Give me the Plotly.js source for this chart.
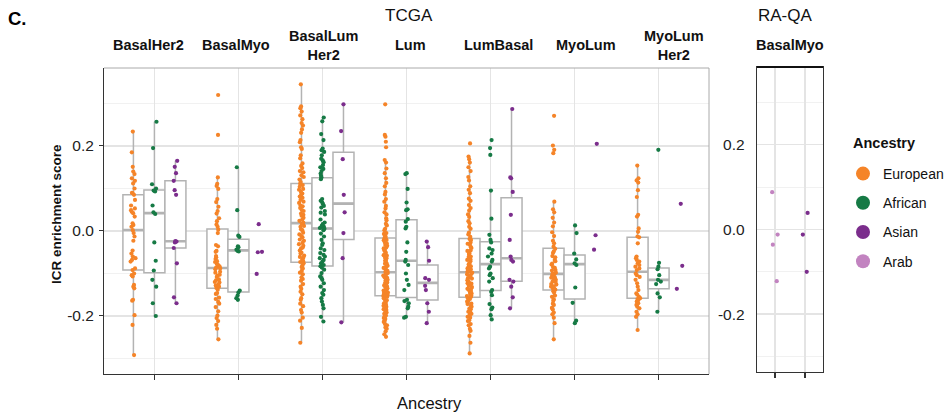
<!DOCTYPE html>
<html><head><meta charset="utf-8">
<script src="https://cdn.plot.ly/plotly-3.0.1.min.js"></script>
<style>html,body{margin:0;padding:0;background:#fff}#chart{width:952px;height:415px}</style>
</head><body><div id="chart"></div>
<script>
// ---------- categories & labels ----------
const subtypes = ['BasalHer2','BasalMyo','BasalLumHer2','Lum','LumBasal','MyoLum','MyoLumHer2'];
const facetLabels = ['BasalHer2','BasalMyo','BasalLum<br>Her2','Lum','LumBasal','MyoLum','MyoLum<br>Her2'];
const tcgaAncestries = ['European','African','Asian'];
const raqaCategories = ['Arab','Asian'];
const raqaFacet = 'BasalMyo';
const legendNames = ['European','African','Asian','Arab'];
const yTickValues = [-0.2, 0, 0.2];
const yTickLabels = ['-0.2','0.0','0.2'];
const yMinorValues = [-0.3, -0.1, 0.1, 0.3];

// ---------- TCGA: ICR enrichment scores ----------
const basalHer2_European = [0.234,0.185,0.151,0.140,0.134,0.124,0.118,0.112,0.100,0.090,0.089,0.085,0.073,0.060,0.053,0.049,0.045,0.042,0.034,0.018,0.014,0.010,0.002,-0.005,-0.013,-0.023,-0.046,-0.053,-0.060,-0.064,-0.068,-0.072,-0.088,-0.092,-0.100,-0.104,-0.107,-0.127,-0.131,-0.135,-0.162,-0.164,-0.198,-0.221,-0.292];
const basalHer2_African = [0.257,0.195,0.110,0.100,0.095,0.093,0.060,0.044,0.040,-0.027,-0.070,-0.093,-0.115,-0.131,-0.170,-0.200];
const basalHer2_Asian = [0.165,0.151,0.136,0.118,0.096,0.085,-0.024,-0.025,-0.027,-0.040,-0.076,-0.156,-0.170];

const basalMyo_European = [0.320,0.226,0.126,0.111,0.106,0.099,0.075,0.068,0.057,0.047,0.041,0.030,0.023,0.015,0.010,0.003,-0.005,-0.033,-0.036,-0.047,-0.049,-0.059,-0.062,-0.066,-0.071,-0.073,-0.078,-0.080,-0.083,-0.086,-0.088,-0.090,-0.096,-0.098,-0.103,-0.105,-0.108,-0.114,-0.116,-0.120,-0.121,-0.126,-0.128,-0.131,-0.134,-0.138,-0.146,-0.148,-0.157,-0.160,-0.167,-0.171,-0.179,-0.189,-0.199,-0.205,-0.212,-0.221,-0.230,-0.255];
const basalMyo_African = [0.150,0.049,-0.011,-0.014,-0.036,-0.038,-0.044,-0.047,-0.048,-0.140,-0.145,-0.152,-0.158,-0.162];
const basalMyo_Asian = [0.016,-0.049,-0.050,-0.101];

const basalLumHer2_European = [0.345,0.293,0.289,0.281,0.272,0.263,0.254,0.248,0.239,0.231,0.214,0.209,0.197,0.193,0.178,0.171,0.159,0.153,0.148,0.141,0.138,0.131,0.127,0.121,0.115,0.111,0.108,0.104,0.099,0.097,0.092,0.088,0.085,0.081,0.078,0.073,0.069,0.066,0.060,0.058,0.054,0.049,0.047,0.041,0.038,0.036,0.031,0.027,0.024,0.020,0.017,0.012,0.010,0.004,0.002,-0.004,-0.008,-0.012,-0.015,-0.020,-0.023,-0.028,-0.031,-0.035,-0.039,-0.041,-0.046,-0.051,-0.053,-0.058,-0.061,-0.063,-0.067,-0.071,-0.073,-0.076,-0.081,-0.085,-0.088,-0.094,-0.098,-0.102,-0.109,-0.113,-0.117,-0.125,-0.131,-0.136,-0.143,-0.149,-0.158,-0.162,-0.171,-0.177,-0.186,-0.192,-0.204,-0.211,-0.228,-0.263];
const basalLumHer2_African = [0.267,0.258,0.228,0.214,0.194,0.190,0.186,0.178,0.170,0.166,0.162,0.155,0.150,0.146,0.141,0.135,0.130,0.126,0.122,0.075,0.071,0.067,0.063,0.059,0.055,0.047,0.043,0.039,0.027,0.020,0.016,0.012,0.010,0.008,0.007,0.005,0.002,-0.006,-0.013,-0.021,-0.029,-0.033,-0.041,-0.045,-0.052,-0.056,-0.060,-0.064,-0.068,-0.072,-0.076,-0.080,-0.083,-0.086,-0.091,-0.099,-0.107,-0.111,-0.115,-0.123,-0.131,-0.139,-0.146,-0.150,-0.158,-0.166,-0.174,-0.182,-0.202,-0.213];
const basalLumHer2_Asian = [0.298,0.235,0.169,0.085,0.044,-0.005,-0.064,-0.215];

const lum_European = [0.298,0.226,0.222,0.210,0.197,0.167,0.161,0.147,0.136,0.124,0.113,0.105,0.092,0.086,0.075,0.069,0.059,0.053,0.044,0.039,0.030,0.025,0.017,0.013,0.005,0.002,-0.005,-0.007,-0.011,-0.014,-0.017,-0.021,-0.022,-0.027,-0.029,-0.033,-0.035,-0.039,-0.041,-0.045,-0.046,-0.051,-0.053,-0.057,-0.058,-0.063,-0.064,-0.069,-0.070,-0.074,-0.077,-0.078,-0.082,-0.084,-0.087,-0.088,-0.091,-0.093,-0.094,-0.096,-0.098,-0.099,-0.102,-0.105,-0.106,-0.109,-0.110,-0.113,-0.115,-0.116,-0.119,-0.121,-0.122,-0.125,-0.127,-0.128,-0.131,-0.132,-0.135,-0.136,-0.138,-0.140,-0.141,-0.143,-0.145,-0.146,-0.148,-0.149,-0.150,-0.152,-0.153,-0.155,-0.158,-0.160,-0.163,-0.165,-0.168,-0.170,-0.174,-0.176,-0.178,-0.181,-0.184,-0.186,-0.190,-0.192,-0.195,-0.199,-0.201,-0.205,-0.207,-0.211,-0.214,-0.219,-0.222,-0.227,-0.230,-0.236,-0.243,-0.249];
const lum_African = [0.136,0.134,0.099,0.067,0.051,0.049,0.028,0.022,0.010,0.006,-0.027,-0.049,-0.068,-0.072,-0.080,-0.100,-0.115,-0.127,-0.139,-0.162,-0.165,-0.170,-0.178,-0.182,-0.202,-0.204];
const lum_Asian = [-0.025,-0.038,-0.070,-0.111,-0.115,-0.129,-0.139,-0.170,-0.190,-0.217];

const lumBasal_European = [0.206,0.175,0.169,0.161,0.150,0.141,0.127,0.119,0.105,0.097,0.089,0.076,0.071,0.061,0.054,0.048,0.039,0.033,0.023,0.018,0.010,0.005,-0.004,-0.008,-0.014,-0.019,-0.021,-0.027,-0.030,-0.033,-0.038,-0.040,-0.046,-0.047,-0.053,-0.054,-0.060,-0.061,-0.067,-0.068,-0.071,-0.077,-0.078,-0.083,-0.084,-0.088,-0.090,-0.093,-0.094,-0.096,-0.098,-0.101,-0.102,-0.106,-0.107,-0.111,-0.112,-0.116,-0.117,-0.120,-0.123,-0.124,-0.128,-0.129,-0.132,-0.135,-0.136,-0.139,-0.141,-0.144,-0.147,-0.148,-0.152,-0.153,-0.155,-0.158,-0.160,-0.165,-0.166,-0.171,-0.172,-0.177,-0.178,-0.183,-0.184,-0.189,-0.190,-0.195,-0.197,-0.202,-0.204,-0.210,-0.212,-0.219,-0.222,-0.230,-0.235,-0.247,-0.263,-0.288];
const lumBasal_African = [0.214,0.195,0.179,0.095,0.029,-0.009,-0.021,-0.027,-0.041,-0.045,-0.053,-0.060,-0.068,-0.072,-0.084,-0.088,-0.100,-0.104,-0.111,-0.119,-0.139,-0.143,-0.151,-0.172,-0.180,-0.184,-0.198,-0.208];
const lumBasal_Asian = [0.287,0.126,0.124,0.092,0.038,-0.021,-0.060,-0.068,-0.072,-0.115,-0.119,-0.131,-0.156,-0.182];

const myoLum_European = [0.271,0.201,0.191,0.183,0.069,0.051,0.044,0.031,0.020,0.011,-0.003,-0.012,-0.023,-0.029,-0.037,-0.042,-0.048,-0.052,-0.059,-0.062,-0.068,-0.071,-0.077,-0.079,-0.085,-0.087,-0.092,-0.093,-0.098,-0.100,-0.102,-0.104,-0.109,-0.110,-0.114,-0.115,-0.119,-0.120,-0.125,-0.126,-0.130,-0.131,-0.135,-0.136,-0.138,-0.142,-0.145,-0.152,-0.155,-0.161,-0.164,-0.171,-0.174,-0.181,-0.185,-0.192,-0.196,-0.204,-0.217,-0.255];
const myoLum_African = [0.013,-0.005,-0.053,-0.067,-0.076,-0.080,-0.133,-0.169,-0.211,-0.217];
const myoLum_Asian = [0.205,-0.010,-0.044];

const myoLumHer2_European = [0.154,0.124,0.119,0.114,0.096,0.080,0.038,0.034,0.006,-0.002,-0.013,-0.015,-0.029,-0.060,-0.064,-0.068,-0.072,-0.076,-0.080,-0.084,-0.088,-0.092,-0.100,-0.104,-0.108,-0.115,-0.123,-0.131,-0.139,-0.147,-0.150,-0.155,-0.158,-0.160,-0.163,-0.166,-0.170,-0.174,-0.178,-0.182,-0.190,-0.196,-0.202,-0.233];
const myoLumHer2_African = [0.191,-0.075,-0.084,-0.090,-0.104,-0.115,-0.119,-0.125,-0.147,-0.156,-0.190];
const myoLumHer2_Asian = [0.064,-0.082,-0.136];

// ---------- RA-QA (BasalMyo) ----------
const raqa_Arab = [0.088,-0.012,-0.036,-0.122];
const raqa_Asian = [0.039,-0.012,-0.100];

// ---------- assembly ----------
const tcgaData = {
  European: [basalHer2_European, basalMyo_European, basalLumHer2_European, lum_European, lumBasal_European, myoLum_European, myoLumHer2_European],
  African:  [basalHer2_African, basalMyo_African, basalLumHer2_African, lum_African, lumBasal_African, myoLum_African, myoLumHer2_African],
  Asian:    [basalHer2_Asian, basalMyo_Asian, basalLumHer2_Asian, lum_Asian, lumBasal_Asian, myoLum_Asian, myoLumHer2_Asian]
};
const raqaData = {Arab: raqa_Arab, Asian: raqa_Asian};

// ---------- styles ----------
const colors = {European:'#F58428', African:'#167A45', Asian:'#7B2D8C', Arab:'#C283C0'};
const FONT = 'Liberation Sans, Arial, Helvetica, sans-serif';
const W = 952, H = 415;
const px = v => v / W, py = v => 1 - v / H;
const boxLine = '#b3b3b3';
const minBoxN = 5;
const stripX0 = 148, stripStep = 87.6;   // facet strip label placement (px)

function q7(s, p) { const h = (s.length - 1) * p, lo = Math.floor(h), hi = Math.ceil(h); return s[lo] + (h - lo) * (s[hi] - s[lo]); }
function stats(vals) {
  const s = vals.slice().sort((a, b) => a - b);
  const q1 = q7(s, 0.25), med = q7(s, 0.5), q3 = q7(s, 0.75), iqr = q3 - q1;
  const lf = s.find(v => v >= q1 - 1.5 * iqr);
  const uf = s.slice().reverse().find(v => v <= q3 + 1.5 * iqr);
  return {q1, med, q3, lf, uf};
}

const traces = [];
// boxes
tcgaAncestries.forEach(anc => {
  const b = {x: [], q1: [], median: [], q3: [], lowerfence: [], upperfence: []};
  tcgaData[anc].forEach((vals, i) => {
    if (vals.length < minBoxN) return;
    const st = stats(vals);
    b.x.push(subtypes[i]); b.q1.push(st.q1); b.median.push(st.med); b.q3.push(st.q3);
    b.lowerfence.push(st.lf); b.upperfence.push(st.uf);
  });
  traces.push(Object.assign({type: 'box', orientation: 'v', boxpoints: false, offsetgroup: anc, alignmentgroup: 'tcga',
    line: {color: boxLine, width: 1.5}, fillcolor: '#ffffff', whiskerwidth: 0, showlegend: false, hoverinfo: 'skip',
    xaxis: 'x', yaxis: 'y'}, b));
  // thicker median bar
  traces.push({type: 'box', orientation: 'v', boxpoints: false, offsetgroup: anc, alignmentgroup: 'tcga',
    x: b.x, q1: b.median, median: b.median, q3: b.median, lowerfence: b.median, upperfence: b.median,
    line: {color: boxLine, width: 2.6}, fillcolor: 'rgba(0,0,0,0)', whiskerwidth: 0, showlegend: false, hoverinfo: 'skip',
    xaxis: 'x', yaxis: 'y'});
});
// points
tcgaAncestries.forEach(anc => {
  const xs = [], ys = [];
  tcgaData[anc].forEach((vals, i) => vals.forEach(v => { xs.push(subtypes[i]); ys.push(v); }));
  traces.push({type: 'box', x: xs, y: ys, boxpoints: 'all', jitter: 0.27, pointpos: 0, offsetgroup: anc, alignmentgroup: 'tcga',
    line: {color: 'rgba(0,0,0,0)', width: 0}, fillcolor: 'rgba(0,0,0,0)', whiskerwidth: 0,
    marker: {color: colors[anc], size: 4.2}, showlegend: false, hoverinfo: 'y', xaxis: 'x', yaxis: 'y'});
});
raqaCategories.forEach(cat => {
  const vals = raqaData[cat];
  traces.push({type: 'box', x: vals.map(() => cat), y: vals, boxpoints: 'all', jitter: 0.3, pointpos: 0, offsetgroup: 'rp', alignmentgroup: 'raqa',
    line: {color: 'rgba(0,0,0,0)', width: 0}, fillcolor: 'rgba(0,0,0,0)', whiskerwidth: 0,
    marker: {color: colors[cat], size: 4.2}, showlegend: false, hoverinfo: 'y', xaxis: 'x2', yaxis: 'y2'});
});
// legend entries
legendNames.forEach(n => traces.push({type: 'scatter', mode: 'markers', x: [null], y: [null], name: n, legendgroup: n,
  marker: {color: colors[n], size: 14}, xaxis: 'x', yaxis: 'y', hoverinfo: 'skip'}));

const yRange = [-0.3365, 0.3835];
const gridC = '#e4e4e4', minorC = '#eeeeee';
const tickFont = {family: FONT, size: 15.5, color: '#222'};

const annotations = [];
facetLabels.forEach((lab, i) => annotations.push({xref: 'paper', yref: 'paper', x: px(stripX0 + i * stripStep), y: py(45), text: '<b>' + lab + '</b>',
  showarrow: false, xanchor: 'center', yanchor: 'middle', font: {family: FONT, size: 14.5, color: '#111'}}));
annotations.push({xref: 'x2 domain', yref: 'paper', x: 0.5, y: py(45), text: '<b>' + raqaFacet + '</b>', showarrow: false,
  xanchor: 'center', yanchor: 'middle', font: {family: FONT, size: 14.5, color: '#111'}});
annotations.push({xref: 'paper', yref: 'paper', x: px(409), y: py(15), text: 'TCGA', showarrow: false, xanchor: 'center', yanchor: 'middle', font: {family: FONT, size: 17, color: '#111'}});
annotations.push({xref: 'paper', yref: 'paper', x: px(785), y: py(15), text: 'RA-QA', showarrow: false, xanchor: 'center', yanchor: 'middle', font: {family: FONT, size: 17, color: '#111'}});
annotations.push({xref: 'paper', yref: 'paper', x: px(6), y: py(19), text: '<b>C.</b>', showarrow: false, xanchor: 'left', yanchor: 'middle', font: {family: FONT, size: 18.5, color: '#000'}});
annotations.push({xref: 'paper', yref: 'paper', x: px(56), y: py(214), text: '<b>ICR enrichment score</b>', textangle: -90, showarrow: false, xanchor: 'center', yanchor: 'middle', font: {family: FONT, size: 13.5, color: '#111'}});
annotations.push({xref: 'paper', yref: 'paper', x: px(429), y: py(403), text: 'Ancestry', showarrow: false, xanchor: 'center', yanchor: 'middle', font: {family: FONT, size: 16.5, color: '#111'}});
annotations.push({xref: 'paper', yref: 'paper', x: px(851), y: py(143), text: '<b>Ancestry</b>', showarrow: false, xanchor: 'left', yanchor: 'middle', font: {family: FONT, size: 14.5, color: '#111'}});

const layout = {
  width: W, height: H, margin: {l: 0, r: 0, t: 0, b: 0}, paper_bgcolor: '#fff', plot_bgcolor: '#fff',
  font: {family: FONT}, boxmode: 'group', boxgap: 0.25, boxgroupgap: 0,
  xaxis: {domain: [px(104), px(709)], anchor: 'y', type: 'category', categoryorder: 'array', categoryarray: subtypes,
    range: [-0.6, 6.6], showticklabels: false, ticks: 'outside', ticklen: 5, tickwidth: 1, tickcolor: '#333',
    showgrid: true, gridcolor: gridC, gridwidth: 1.4, showline: true, linecolor: '#333', linewidth: 1, zeroline: false, fixedrange: true},
  yaxis: {domain: [py(374), py(68)], anchor: 'x', range: yRange, tickmode: 'array', tickvals: yTickValues, ticktext: yTickLabels,
    ticks: 'outside', ticklen: 4, tickwidth: 1, tickcolor: '#333', tickfont: tickFont, ticklabelstandoff: 2,
    showgrid: true, gridcolor: gridC, gridwidth: 1.4,
    minor: {tickmode: 'array', tickvals: yMinorValues, showgrid: true, gridcolor: minorC, gridwidth: 0.8, ticks: ''},
    showline: true, linecolor: '#333', linewidth: 1, zeroline: false, fixedrange: true},
  xaxis2: {domain: [px(757), px(823)], anchor: 'y2', type: 'category', categoryorder: 'array', categoryarray: raqaCategories,
    range: [-0.6, 1.6], showticklabels: false, ticks: 'outside', ticklen: 5, tickwidth: 1.5, tickcolor: '#333',
    showgrid: true, gridcolor: gridC, gridwidth: 1.4, showline: true, mirror: true, linecolor: '#333', linewidth: 1.3, zeroline: false, fixedrange: true},
  yaxis2: {domain: [py(372), py(67)], anchor: 'x2', range: yRange, tickmode: 'array', tickvals: yTickValues, ticktext: yTickLabels,
    ticks: '', tickfont: tickFont, ticklabelstandoff: 8,
    showgrid: true, gridcolor: gridC, gridwidth: 1.4,
    minor: {tickmode: 'array', tickvals: yMinorValues, showgrid: true, gridcolor: minorC, gridwidth: 0.8, ticks: ''},
    showline: true, mirror: true, linecolor: '#333', linewidth: 1.3, zeroline: false, fixedrange: true},
  shapes: [
    {type: 'line', xref: 'x domain', yref: 'y domain', x0: 0, x1: 1, y0: 1, y1: 1, line: {color: '#aaaaaa', width: 1}},
    {type: 'line', xref: 'x domain', yref: 'y domain', x0: 1, x1: 1, y0: 0, y1: 1, line: {color: '#aaaaaa', width: 1}},
    {type: 'line', xref: 'x2 domain', yref: 'y2 domain', x0: 0, x1: 1, y0: 1, y1: 1, line: {color: '#111', width: 2.2}}
  ],
  legend: {x: px(843), xanchor: 'left', y: py(158), yanchor: 'top', font: {family: FONT, size: 14, color: '#111'},
    traceorder: 'grouped', tracegroupgap: 8, bgcolor: 'rgba(0,0,0,0)', borderwidth: 0},
  annotations: annotations,
  showlegend: true
};
Plotly.newPlot('chart', traces, layout, {staticPlot: true, displayModeBar: false});
</script>
</body></html>
